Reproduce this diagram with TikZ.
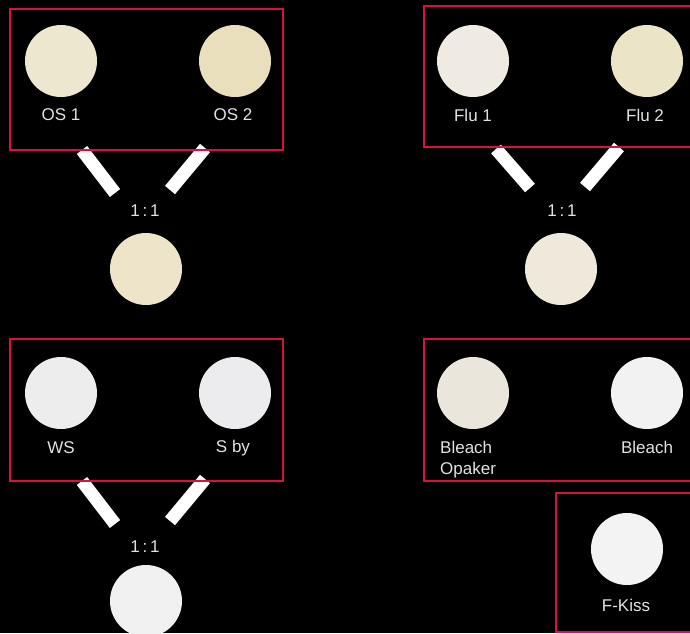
\documentclass[tikz,border=0pt]{standalone}
\usepackage{fontspec}
\setmainfont{Liberation Sans}
\definecolor{frame}{HTML}{D8123C}
\definecolor{txt}{HTML}{E2E2E2}
\definecolor{osA}{HTML}{EEE7D0}
\definecolor{osB}{HTML}{EADFBD}
\definecolor{osMix}{HTML}{EDE4C9}
\definecolor{fluA}{HTML}{EFEBE2}
\definecolor{fluB}{HTML}{ECE4C7}
\definecolor{fluMix}{HTML}{EFE9DC}
\definecolor{wsA}{HTML}{EEEDEE}
\definecolor{sbyB}{HTML}{ECECEF}
\definecolor{wsMix}{HTML}{F0F0F0}
\definecolor{bleachOp}{HTML}{EBE6DB}
\definecolor{bleachW}{HTML}{F2F2F2}
\definecolor{kiss}{HTML}{F3F3F3}
\tikzset{
  shade/.style={circle, minimum size=72pt, inner sep=0pt, draw=none, fill=#1},
  lbl/.style={text=txt, font=\fontsize{17}{21}\selectfont, inner sep=0pt},
  groupbox/.style={draw=frame, line width=2pt},
  mixbar/.style={draw=white, line width=13pt, line cap=butt}
}
\begin{document}
\begin{tikzpicture}[x=1pt,y=-1pt]
  \fill[black] (0,0) rectangle (690,633);
  \useasboundingbox (0,0) rectangle (690,633);

  % --- OS group ---
  \node[shade=osA] (os1) at (61,61) {};
  \node[shade=osB] (os2) at (235,61) {};
  \node[lbl] (os1t) at (61,115) {OS 1};
  \node[lbl] (os2t) at (233,115) {OS 2};
  \coordinate (osL1) at (82,150);  \coordinate (osL2) at (115,193);
  \coordinate (osR1) at (205,148); \coordinate (osR2) at (170,190);
  \draw[mixbar] (osL1) -- (osL2);
  \draw[mixbar] (osR1) -- (osR2);
  \draw[groupbox] (10,9) rectangle (283,150);
  \node[lbl] (osr) at (145,211) {1\,:\,1};
  \node[shade=osMix] (osm) at (146,269) {};

  % --- Flu group ---
  \node[shade=fluA] (flu1) at (473,61) {};
  \node[shade=fluB] (flu2) at (647,61) {};
  \node[lbl] (flu1t) at (473,115) {Flu 1};
  \node[lbl] (flu2t) at (645,115) {Flu 2};
  \coordinate (fluL1) at (496,149); \coordinate (fluL2) at (530,188);
  \coordinate (fluR1) at (619,147); \coordinate (fluR2) at (585,187);
  \draw[mixbar] (fluL1) -- (fluL2);
  \draw[mixbar] (fluR1) -- (fluR2);
  \draw[groupbox] (424,6) rectangle (700,147);
  \node[lbl] (flur) at (562,211) {1\,:\,1};
  \node[shade=fluMix] (flum) at (561,269) {};

  % --- WS / S by group ---
  \node[shade=wsA] (ws) at (61,393) {};
  \node[shade=sbyB] (sby) at (235,393) {};
  \node[lbl] (wst) at (61,448) {WS};
  \node[lbl] (sbyt) at (233,448) {S by};
  \coordinate (wsL1) at (82,481);  \coordinate (wsL2) at (115,524);
  \coordinate (wsR1) at (205,479); \coordinate (wsR2) at (170,521);
  \draw[mixbar] (wsL1) -- (wsL2);
  \draw[mixbar] (wsR1) -- (wsR2);
  \draw[groupbox] (10,339) rectangle (283,481);
  \node[lbl] (wsr) at (145,547) {1\,:\,1};
  \node[shade=wsMix] (wsm) at (146,601) {};

  % --- Bleach group ---
  \node[shade=bleachOp] (blo) at (473,393) {};
  \node[shade=bleachW] (blw) at (647,393) {};
  \node[lbl, anchor=west, align=left] (blot) at (440,460) {Bleach\\Opaker};
  \node[lbl] (blwt) at (647,447) {Bleach};
  \draw[groupbox] (424,339) rectangle (700,481);

  % --- F-Kiss ---
  \node[shade=kiss] (fk) at (627,549) {};
  \node[lbl] (fkt) at (626,605) {F-Kiss};
  \draw[groupbox] (556,493) rectangle (700,632);
\end{tikzpicture}
\end{document}
